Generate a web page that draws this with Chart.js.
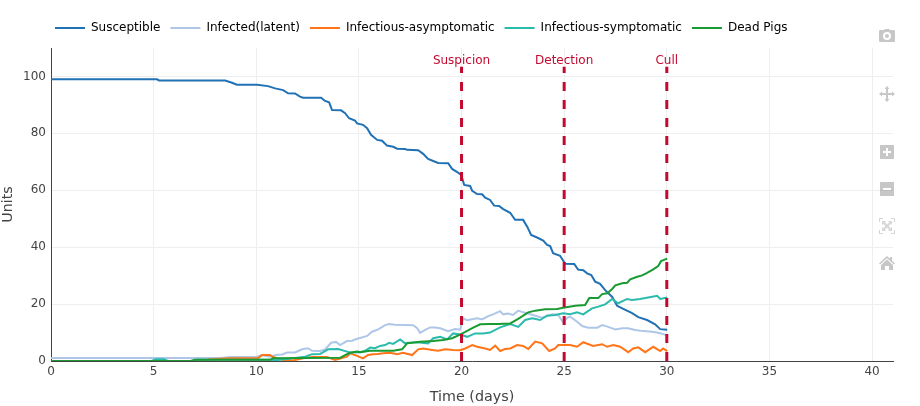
<!DOCTYPE html>
<html>
<head>
<meta charset="utf-8">
<style>
html,body{margin:0;padding:0;background:#fff;width:920px;height:406px;overflow:hidden}
#wrap{position:relative;width:920px;height:406px}
canvas{position:absolute;left:0;top:0}
svg.ic{position:absolute;fill:rgba(68,68,68,0.3)}
</style>
<script src="https://cdn.jsdelivr.net/npm/chart.js@4"></script>
</head>
<body>
<div id="wrap">
<canvas id="c" width="920" height="406"></canvas>
<svg class="ic" style="left:879px;top:28px" width="16" height="16" viewBox="0 0 16 16"><path fill-rule="evenodd" d="M5 2 L6 1 H10 L11 2 H15 Q16 2 16 3 V13 Q16 14 15 14 H1 Q0 14 0 13 V3 Q0 2 1 2 Z M8 4 A4 4 0 1 0 8 12 A4 4 0 1 0 8 4 Z M8 6 A2 2 0 1 1 8 10 A2 2 0 1 1 8 6 Z"/></svg>
<svg class="ic" style="left:879px;top:86px" width="16" height="16" viewBox="0 0 16 16"><path d="M8 0 L10.5 3 H9 V7 H13 V5.5 L16 8 L13 10.5 V9 H9 V13 H10.5 L8 16 L5.5 13 H7 V9 H3 V10.5 L0 8 L3 5.5 V7 H7 V3 H5.5 Z"/></svg>
<svg class="ic" style="left:880px;top:145px" width="14" height="14" viewBox="0 0 14 14"><path fill-rule="evenodd" d="M0 0 H14 V14 H0 Z M6 3 V6 H3 V8 H6 V11 H8 V8 H11 V6 H8 V3 Z"/></svg>
<svg class="ic" style="left:880px;top:182px" width="14" height="14" viewBox="0 0 14 14"><path fill-rule="evenodd" d="M0 0 H14 V14 H0 Z M3 6 V8 H11 V6 Z"/></svg>
<svg class="ic" style="left:879px;top:218px;opacity:.7" width="16" height="16" viewBox="0 0 16 16"><path d="M0 0 H4 V1 H1 V4 H0 Z M12 0 H16 V4 H15 V1 H12 Z M0 12 H1 V15 H4 V16 H0 Z M15 12 H16 V16 H12 V15 H15 Z M3 3 H7 L5.8 4.2 L8 6.4 L10.2 4.2 L9 3 H13 V7 L11.8 5.8 L9.6 8 L11.8 10.2 L13 9 V13 H9 L10.2 11.8 L8 9.6 L5.8 11.8 L7 13 H3 V9 L4.2 10.2 L6.4 8 L4.2 5.8 L3 7 Z"/></svg>
<svg class="ic" style="left:879px;top:255px" width="16" height="16" viewBox="0 0 16 16"><path d="M8 1 L11 3.8 V2 H13 V5.7 L16 8.5 L15 9.5 L8 3.2 L1 9.5 L0 8.5 Z M8 4.6 L14 10 V15 H10 V11 H6 V15 H2 V10 Z"/></svg>
</div>
<script>
const seriesNames = ["Susceptible","Infected(latent)","Infectious-asymptomatic","Infectious-symptomatic","Dead Pigs"];
const seriesColors = ["#2171b5","#aec7e8","#ff7518","#2bbbad","#1a9a32"];
const eventNames = ["Suspicion","Detection","Cull"];
const eventTimes = [20,25,30];
const eventColor = "#c4092f";
const eventTop = 103.4;
const eventLabelY = 105.4;
const xTickStep = 5;
const yTickStep = 20;

const susT = [0,5.17,5.26,8.48,8.82,9.06,10.04,10.57,10.92,11.31,11.55,11.89,12.13,12.28,13.16,13.35,13.55,13.69,14.13,14.33,14.52,14.81,14.91,15.2,15.4,15.59,15.89,16.13,16.37,16.67,16.86,17.25,17.35,17.89,18.13,18.37,18.62,18.86,19.35,19.54,19.79,19.98,20.13,20.42,20.52,20.76,21.0,21.15,21.39,21.59,21.83,22.03,22.37,22.61,23.0,23.2,23.39,23.68,23.98,24.17,24.32,24.46,24.8,25.05,25.49,25.68,25.93,26.12,26.32,26.51,26.75,27.0,27.34,27.58,27.88,28.31,28.61,29.04,29.43,29.68,30.02];
const susV = [99,99,98.6,98.6,97.8,97.1,97.1,96.6,95.8,95.2,94.1,94,92.9,92.5,92.5,91.4,90.9,88.2,88.1,87.1,85.3,84.5,83.5,83,81.8,79.5,77.7,77.4,75.7,75.3,74.6,74.5,74.2,74.1,72.8,71,70.3,69.6,69.5,67.5,66.4,65.4,61.9,61.5,59.8,58.7,58.6,57.4,56.6,54.6,54.5,53.4,52.1,49.6,49.6,47.2,44.3,43.4,42.3,40.8,40.4,37.9,37,34.2,34.1,32.1,31.9,30.8,30.2,27.9,27.1,24.9,22.5,19.4,18.3,16.8,15.4,14.4,12.9,11.2,11];

const latT = [0,8.3,8.72,10.04,10.28,10.67,11.01,11.26,11.5,11.89,12.23,12.52,12.72,13.11,13.35,13.65,13.89,14.08,14.42,14.67,14.91,15.06,15.4,15.64,15.94,16.28,16.47,16.76,17.64,17.84,17.98,18.23,18.47,18.71,18.96,19.35,19.69,19.93,20.08,20.27,20.52,20.76,21,21.3,21.54,21.88,22.03,22.27,22.51,22.76,23,23.25,23.59,23.93,24.17,24.46,24.71,24.95,25.15,25.29,25.63,25.88,26.17,26.61,26.85,27.14,27.49,27.83,28.12,28.46,28.85,29.29,29.58,30.02];
const latV = [1.05,1.05,1.4,1.5,2,1.5,2.2,2.3,3,3,4.1,4.5,3.6,3.5,4.1,6.4,6.7,5.6,7,7.1,7.8,8.1,8.8,10.3,11.1,12.6,13,12.7,12.6,11.5,9.9,10.9,11.8,11.8,11.5,10.5,11.2,11,15,14.3,14.7,15,14.6,15.8,16.4,17.5,16.4,16.7,16.2,17.7,17.1,16.7,15.9,15.2,15.9,16.4,16.2,13.6,15.2,15.6,13.8,12.3,11.7,11.7,12.6,12,11.1,11.5,11.5,10.9,10.5,10.3,9.9,9.1];

const asyT = [0,7.4,7.75,8.72,10.09,10.28,10.67,10.82,11.26,11.79,12.28,12.72,13.45,13.84,14.42,14.57,14.91,15.2,15.45,15.69,15.94,16.18,16.52,16.86,17.15,17.59,17.89,18.13,18.57,18.86,19.2,19.59,19.93,20.18,20.52,20.76,21.15,21.39,21.64,21.88,22.12,22.37,22.71,23,23.25,23.59,23.93,24.27,24.56,24.71,25.29,25.63,25.93,26.41,26.85,27.1,27.39,27.73,28.12,28.36,28.61,28.95,29.34,29.68,29.82,30.02];
const asyV = [0,0,0.6,1,1,2.1,2.1,1.4,0.4,0.2,1,1.4,1.4,0.4,1.5,2.7,1.8,0.9,2.1,2.4,2.5,2.7,2.9,2.4,2.9,2.1,4.1,4.4,3.9,3.6,4.1,3.9,3.8,4.4,5.6,5,4.4,3.9,5.4,3.5,4.2,4.4,5.6,5.3,4.2,6.8,6.2,3.5,4.4,5.6,5.6,5,6.6,5.3,5.9,5,5.6,5,3.1,4.4,4.8,3.1,5,3.5,4.4,3.5];

const symT = [0,4.9,5.1,5.5,5.7,6.9,7.1,10.7,11,12.38,12.72,13.11,13.26,13.5,13.99,14.42,14.57,15.06,15.3,15.55,15.79,16.03,16.28,16.47,16.67,17.01,17.25,17.4,17.84,18.37,18.62,18.96,19.3,19.59,19.93,20.27,20.66,21.05,21.39,21.88,22.37,22.76,23.1,23.44,23.83,24.17,24.56,24.95,25.29,25.63,25.93,26.36,26.66,27,27.34,27.63,28.07,28.31,28.7,29.09,29.53,29.68,30.02];
const symV = [0,0,0.6,0.6,0,0,0.4,0.4,0.3,1.5,2.4,2.5,3.1,4.1,4.2,3.3,3,3.1,3.6,4.7,4.5,5.3,5.6,6.4,6,7.6,6.2,6.4,6.6,6.2,8,8.5,7.6,9.7,9.3,8.5,9.7,9.7,10,11.8,13,12,14.4,15,14.4,15.9,16.2,16.8,16.4,17.1,16.4,18.5,19.1,19.9,21.8,20.3,21.8,21.4,21.8,22.3,22.9,21.8,22.3];

const deadT = [0,6.8,7,10.7,10.8,14.08,14.33,14.57,14.91,15.06,15.55,16.67,17.1,17.35,17.98,18.62,19.1,19.54,19.93,20.18,20.57,20.91,21.39,21.78,22.37,22.76,23.25,23.59,24.07,24.66,24.95,25.54,26.02,26.22,26.66,26.85,27.1,27.34,27.49,27.83,28.07,28.22,28.56,28.8,29.04,29.34,29.58,29.72,30.02];
const deadV = [0,0,0.4,0.4,1,1.1,2.1,2.9,3.3,3.1,3.6,3.6,4.1,6.2,6.8,7,7.4,8,9.3,10.2,11.7,12.9,13,13,13.2,14.8,17.1,17.7,18.2,18.3,18.7,19.4,19.7,22.1,22.1,23.5,23.8,25.3,26.6,27.3,27.5,28.7,29.6,30.1,31,32.2,33.4,35.1,36];

const seriesT = [susT,latT,asyT,symT,deadT];
const seriesV = [susV,latV,asyV,symV,deadV];

const datasets = seriesNames.map((name,i)=>({
  label:name,
  data:seriesT[i].map((t,k)=>({x:t,y:seriesV[i][k]})),
  borderColor:seriesColors[i],
  backgroundColor:seriesColors[i],
  borderWidth:2,
  pointRadius:0,
  tension:0,
  fill:false,
  order:seriesNames.length-i
}));
eventTimes.forEach((t,i)=>datasets.push({
  label:eventNames[i],
  data:[{x:t,y:0},{x:t,y:eventTop}],
  borderColor:eventColor,
  borderWidth:3,
  borderDash:[9,9],
  pointRadius:0,
  fill:false,
  clip:false,
  order:0
}));

const eventLabels = {
  id:"eventLabels",
  afterDatasetsDraw(chart){
    const c=chart.ctx,sx=chart.scales.x,sy=chart.scales.y;
    c.save();
    c.font="12px 'DejaVu Sans'";
    c.fillStyle=eventColor;
    c.textAlign="center";
    c.textBaseline="middle";
    eventTimes.forEach((t,i)=>c.fillText(eventNames[i],sx.getPixelForValue(t),sy.getPixelForValue(eventLabelY)));
    c.restore();
  }
};
const placeLegend = {
  id:"placeLegend",
  afterLayout(chart){
    chart.legend.left = 45;
    chart.legend.top = 12;
  }
};

new Chart(document.getElementById("c"),{
  type:"line",
  data:{datasets},
  plugins:[eventLabels,placeLegend],
  options:{
    responsive:false,
    animation:false,
    devicePixelRatio:1,
    layout:{padding:{top:16,right:27,left:0,bottom:0}},
    plugins:{
      tooltip:{enabled:false},
      title:{display:false},
      legend:{
        display:true,
        position:"top",
        align:"start",
        labels:{
          boxWidth:30,
          boxHeight:2,
          padding:10,
          color:"#444",
          font:{family:"'DejaVu Sans'",size:12},
          filter:(item)=>seriesNames.includes(item.text),
          generateLabels(chart){
            return chart.data.datasets.map((d,i)=>({text:d.label,fillStyle:d.borderColor,strokeStyle:d.borderColor,lineWidth:0,datasetIndex:i}));
          }
        }
      }
    },
    scales:{
      x:{
        type:"linear",
        min:0,
        max:41.02,
        afterFit(s){s.height=45;},
        title:{display:true,text:"Time (days)",color:"#444",font:{family:"'DejaVu Sans'",size:14.3},padding:{top:2,bottom:0}},
        grid:{color:"#eeeeee",lineWidth:1,drawTicks:false},
        border:{color:"#444",width:1},
        ticks:{stepSize:xTickStep,includeBounds:false,autoSkip:false,maxRotation:0,padding:4,color:"#444",font:{family:"'DejaVu Sans'",size:12}}
      },
      y:{
        type:"linear",
        min:0,
        max:110,
        afterFit(s){s.width=51;},
        title:{display:true,text:"Units",color:"#444",font:{family:"'DejaVu Sans'",size:14.3},padding:{top:0,bottom:0}},
        grid:{color:"#eeeeee",lineWidth:1,drawTicks:false},
        border:{color:"#444",width:1},
        ticks:{stepSize:yTickStep,includeBounds:false,padding:5,color:"#444",font:{family:"'DejaVu Sans'",size:12}}
      }
    }
  }
});
</script>
</body>
</html>
